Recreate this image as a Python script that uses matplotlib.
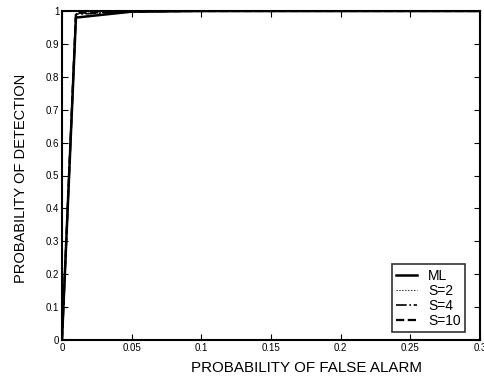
import matplotlib
matplotlib.use('Agg')
import matplotlib.pyplot as plt

plt.rcParams['font.family'] = ['Liberation Sans', 'DejaVu Sans']

# ROC points (false alarm prob, detection prob) for each detector
pfa_ml = [0.0, 0.01, 0.05, 0.1, 0.2, 0.3]
pd_ml = [0.0, 0.98, 0.998, 1.0, 1.0, 1.0]

pfa_s2 = [0.0, 0.01, 0.025, 0.045, 0.1, 0.3]
pd_s2 = [0.0, 0.992, 0.994, 0.998, 1.0, 1.0]

pfa_s4 = [0.0, 0.01, 0.03, 0.05, 0.1, 0.3]
pd_s4 = [0.0, 0.99, 0.994, 0.997, 1.0, 1.0]

pfa_s10 = [0.0, 0.01, 0.025, 0.04, 0.1, 0.3]
pd_s10 = [0.0, 0.994, 0.996, 0.999, 1.0, 1.0]

x_ticks = [0, 0.05, 0.1, 0.15, 0.2, 0.25, 0.3]
y_ticks = [0, 0.1, 0.2, 0.3, 0.4, 0.5, 0.6, 0.7, 0.8, 0.9, 1]

fig = plt.figure(figsize=(4.84, 3.78), dpi=100)
ax = fig.add_axes([62 / 484, 1 - 340 / 378, 418 / 484, 329 / 378])

ax.plot(pfa_ml, pd_ml, color='black', linewidth=1.8, linestyle='-', label='ML')
ax.plot(pfa_s2, pd_s2, color='black', linewidth=0.8, linestyle=':', label='S=2')
ax.plot(pfa_s4, pd_s4, color='black', linewidth=1.2, linestyle='-.', label='S=4')
ax.plot(pfa_s10, pd_s10, color='black', linewidth=1.6, linestyle='--', label='S=10')

ax.set_xlim(0, 0.3)
ax.set_ylim(0, 1)
ax.set_xticks(x_ticks)
ax.set_xticklabels(['0', '0.05', '0.1', '0.15', '0.2', '0.25', '0.3'])
ax.set_yticks(y_ticks)
ax.set_yticklabels(['0', '0.1', '0.2', '0.3', '0.4', '0.5', '0.6', '0.7', '0.8', '0.9', '1'])
ax.tick_params(direction='in', top=True, right=True, length=4, width=0.8,
               labelsize=7, pad=2)
for spine in ax.spines.values():
    spine.set_linewidth(1.5)

ax.set_xlabel('PROBABILITY OF FALSE ALARM', fontsize=10.9)
ax.set_ylabel('PROBABILITY OF DETECTION', fontsize=10.5)
ax.xaxis.set_label_coords(0.584, -0.085)
ax.xaxis.label.set_verticalalignment('center')
ax.yaxis.set_label_coords(-0.098, 0.492)
ax.yaxis.label.set_verticalalignment('center')

leg = ax.legend(loc='lower right', bbox_to_anchor=(0.964, 0.024),
                borderaxespad=0, fontsize=10, frameon=True, fancybox=False,
                edgecolor='black', handlelength=1.5, borderpad=0.3,
                labelspacing=0.08, handletextpad=0.8)
leg.get_frame().set_linewidth(1.2)

fig.savefig('out.png', dpi=100)
